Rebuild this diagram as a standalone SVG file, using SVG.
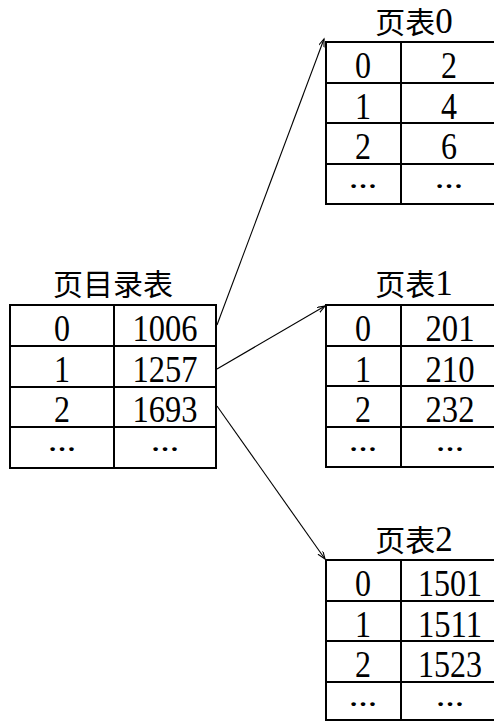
<svg xmlns="http://www.w3.org/2000/svg" width="494" height="721" viewBox="0 0 494 721">
<style>
.grid{fill:none;stroke:#000;stroke-width:2}
.num{font-family:"Liberation Serif","Noto Sans CJK SC",serif;font-size:37px;text-anchor:middle;fill:#000}
.dots{font-family:"Liberation Serif",serif;font-size:24px;font-weight:bold;text-anchor:middle;fill:#000}
.title{font-family:"Liberation Serif","Noto Sans CJK SC",serif;font-size:30px;text-anchor:middle;fill:#000}
.title tspan{font-size:35px}
.conn{stroke:#000;stroke-width:1.1;fill:none}
</style>
<defs>
<marker id="arr" markerWidth="10" markerHeight="8" refX="8" refY="3" orient="auto" markerUnits="userSpaceOnUse">
<path d="M0,0 L8,3 L0,6" fill="none" stroke="#000" stroke-width="1.1"/>
</marker>
</defs>

<g id="page-directory">
<text class="title" x="113" y="295">页目录表</text>
<rect class="grid" x="10" y="305" width="206" height="163"/>
<path class="grid" d="M114,305 V468 M10,346 H216 M10,387 H216 M10,427 H216"/>
<text class="num" x="62" y="341" textLength="16" lengthAdjust="spacingAndGlyphs">0</text>
<text class="num" x="165" y="341" textLength="65" lengthAdjust="spacingAndGlyphs">1006</text>
<text class="num" x="62" y="382" textLength="16" lengthAdjust="spacingAndGlyphs">1</text>
<text class="num" x="165" y="382" textLength="65" lengthAdjust="spacingAndGlyphs">1257</text>
<text class="num" x="62" y="422" textLength="16" lengthAdjust="spacingAndGlyphs">2</text>
<text class="num" x="165" y="422" textLength="65" lengthAdjust="spacingAndGlyphs">1693</text>
<text class="dots" x="62" y="451" textLength="28" lengthAdjust="spacingAndGlyphs">…</text>
<text class="dots" x="165" y="451" textLength="28" lengthAdjust="spacingAndGlyphs">…</text>
</g>

<g id="page-table-0">
<text class="title" x="414" y="33">页表<tspan>0</tspan></text>
<path class="grid" d="M500,42 H326 V204 H500 M401,42 V204 M326,83 H500 M326,123 H500 M326,164 H500"/>
<text class="num" x="363" y="78" textLength="16" lengthAdjust="spacingAndGlyphs">0</text>
<text class="num" x="449" y="78" textLength="16" lengthAdjust="spacingAndGlyphs">2</text>
<text class="num" x="363" y="119" textLength="16" lengthAdjust="spacingAndGlyphs">1</text>
<text class="num" x="449" y="119" textLength="16" lengthAdjust="spacingAndGlyphs">4</text>
<text class="num" x="363" y="159" textLength="16" lengthAdjust="spacingAndGlyphs">2</text>
<text class="num" x="449" y="159" textLength="16" lengthAdjust="spacingAndGlyphs">6</text>
<text class="dots" x="363" y="188" textLength="28" lengthAdjust="spacingAndGlyphs">…</text>
<text class="dots" x="449" y="188" textLength="28" lengthAdjust="spacingAndGlyphs">…</text>
</g>

<g id="page-table-1">
<text class="title" x="414" y="295">页表<tspan>1</tspan></text>
<path class="grid" d="M500,305 H326 V467 H500 M401,305 V467 M326,346 H500 M326,386 H500 M326,427 H500"/>
<text class="num" x="363" y="341" textLength="16" lengthAdjust="spacingAndGlyphs">0</text>
<text class="num" x="450" y="341" textLength="49" lengthAdjust="spacingAndGlyphs">201</text>
<text class="num" x="363" y="382" textLength="16" lengthAdjust="spacingAndGlyphs">1</text>
<text class="num" x="450" y="382" textLength="49" lengthAdjust="spacingAndGlyphs">210</text>
<text class="num" x="363" y="422" textLength="16" lengthAdjust="spacingAndGlyphs">2</text>
<text class="num" x="450" y="422" textLength="49" lengthAdjust="spacingAndGlyphs">232</text>
<text class="dots" x="363" y="451" textLength="28" lengthAdjust="spacingAndGlyphs">…</text>
<text class="dots" x="450" y="451" textLength="28" lengthAdjust="spacingAndGlyphs">…</text>
</g>

<g id="page-table-2">
<text class="title" x="414" y="551">页表<tspan>2</tspan></text>
<path class="grid" d="M500,560 H326 V720 H500 M401,560 V720 M326,601 H500 M326,641 H500 M326,682 H500"/>
<text class="num" x="363" y="596" textLength="16" lengthAdjust="spacingAndGlyphs">0</text>
<text class="num" x="450" y="596" textLength="64" lengthAdjust="spacingAndGlyphs">1501</text>
<text class="num" x="363" y="637" textLength="16" lengthAdjust="spacingAndGlyphs">1</text>
<text class="num" x="450" y="637" textLength="64" lengthAdjust="spacingAndGlyphs">1511</text>
<text class="num" x="363" y="677" textLength="16" lengthAdjust="spacingAndGlyphs">2</text>
<text class="num" x="450" y="677" textLength="64" lengthAdjust="spacingAndGlyphs">1523</text>
<text class="dots" x="363" y="706" textLength="28" lengthAdjust="spacingAndGlyphs">…</text>
<text class="dots" x="450" y="706" textLength="28" lengthAdjust="spacingAndGlyphs">…</text>
</g>

<g id="connectors">
<line class="conn" x1="217" y1="325" x2="324" y2="39" marker-end="url(#arr)"/>
<line class="conn" x1="217" y1="369" x2="325" y2="306" marker-end="url(#arr)"/>
<line class="conn" x1="217" y1="406" x2="325" y2="559" marker-end="url(#arr)"/>
</g>
</svg>
